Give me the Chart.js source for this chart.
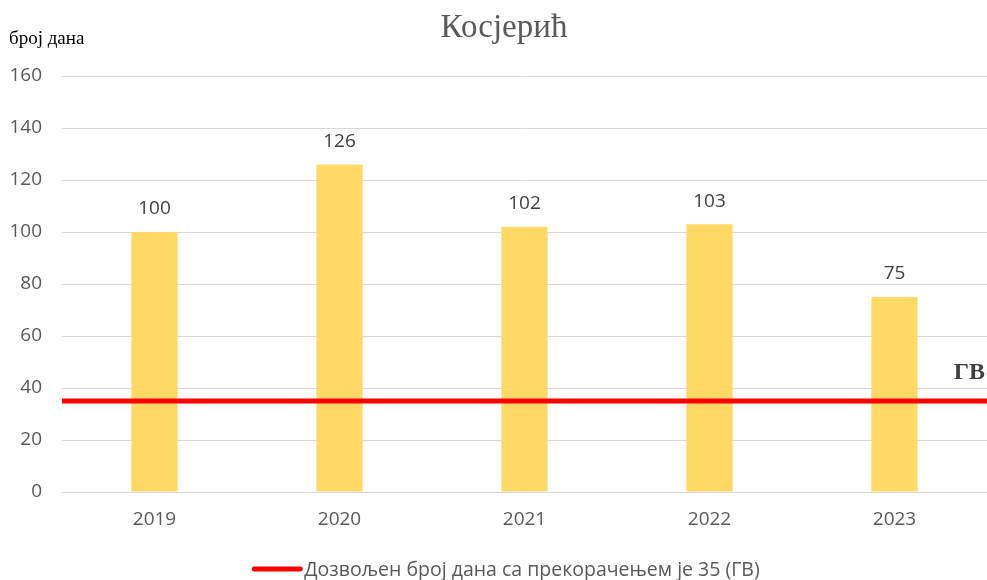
<!DOCTYPE html>
<html><head><meta charset="utf-8">
<script src="https://cdn.jsdelivr.net/npm/chart.js@4/dist/chart.umd.min.js"></script>
<style>html,body{margin:0;padding:0;background:#fff}#wrap{width:987px;height:580px}</style>
</head><body><div id="wrap"><canvas id="c" width="987" height="580"></canvas></div>
<script>
const years = ['2019', '2020', '2021', '2022', '2023'];
const daysOver = [100, 126, 102, 103, 75];
const limitValue = 35;
const limitLabel = 'Дозвољен број дана са прекорачењем је 35 (ГВ)';
const titleText = 'Косјерић';
const yAxisTitle = 'број дана';
const limitTag = 'ГВ';
const yTicks = [0, 20, 40, 60, 80, 100, 120, 140, 160];

const sans = '"Open Sans", sans-serif';
const serif = '"Liberation Serif", "DejaVu Serif", serif';

const decor = {
  id: 'decor',
  afterDatasetsDraw(chart) {
    const ctx = chart.ctx;
    const meta = chart.getDatasetMeta(0);
    ctx.save();
    ctx.fillStyle = '#404040';
    ctx.font = '19px ' + sans;
    ctx.textAlign = 'center';
    ctx.textBaseline = 'middle';
    meta.data.forEach((bar, i) => {
      ctx.fillText(String(daysOver[i]), bar.x, bar.y - 23);
    });
    ctx.restore();
  },
  afterDraw(chart) {
    const ctx = chart.ctx;
    const ca = chart.chartArea;
    const ys = chart.scales.y;
    ctx.save();
    ctx.fillStyle = '#595959';
    ctx.font = '33px ' + serif;
    ctx.textAlign = 'center';
    ctx.textBaseline = 'middle';
    ctx.fillText(titleText, 504, 28);
    ctx.fillStyle = '#000';
    ctx.font = '19px ' + serif;
    ctx.textAlign = 'left';
    ctx.fillText(yAxisTitle, 9, 39);
    ctx.fillStyle = '#404040';
    ctx.font = 'bold 24px ' + serif;
    ctx.textAlign = 'right';
    ctx.textBaseline = 'alphabetic';
    ctx.fillText(limitTag, ca.right - 2, ys.getPixelForValue(limitValue) - 22);
    const ds = chart.data.datasets[1];
    ctx.font = '19.5px ' + sans;
    ctx.textAlign = 'left';
    ctx.textBaseline = 'middle';
    const tw = ctx.measureText(ds.label).width;
    const lw = 46, gap = 4;
    const total = lw + gap + tw;
    const x0 = 507 - total / 2;
    const yl = 569;
    ctx.strokeStyle = ds.borderColor;
    ctx.lineWidth = 5;
    ctx.lineCap = 'round';
    ctx.beginPath();
    ctx.moveTo(x0, yl);
    ctx.lineTo(x0 + lw, yl);
    ctx.stroke();
    ctx.fillStyle = '#595959';
    ctx.fillText(ds.label, x0 + lw + gap, yl + 1);
    ctx.restore();
  }
};

new Chart(document.getElementById('c'), {
  data: {
    labels: years,
    datasets: [
      {
        type: 'bar',
        label: 'Број дана',
        data: daysOver,
        backgroundColor: '#FFD966',
        barPercentage: 0.25,
        categoryPercentage: 1,
        grouped: false,
        order: 2
      },
      {
        type: 'line',
        label: limitLabel,
        xAxisID: 'x2',
        data: [{x: 0, y: limitValue}, {x: 1, y: limitValue}],
        borderColor: '#FF0000',
        borderWidth: 5,
        pointRadius: 0,
        fill: false,
        order: 1
      }
    ]
  },
  options: {
    responsive: false,
    animation: false,
    layout: { padding: { top: 76, right: 0, left: 0, bottom: 48 } },
    plugins: { legend: { display: false }, tooltip: { enabled: false }, title: { display: false } },
    scales: {
      x: {
        type: 'category',
        grid: { display: false, drawTicks: false },
        border: { display: false },
        ticks: { color: '#595959', font: { size: 19, family: sans }, padding: 16 },
        afterFit(s) { s.height = 40; }
      },
      x2: { type: 'linear', min: 0, max: 1, display: false },
      y: {
        min: 0, max: 160,
        afterBuildTicks(s) { s.ticks = yTicks.map(v => ({ value: v })); },
        grid: { color: '#D9D9D9', lineWidth: 1, drawTicks: false },
        border: { display: false },
        ticks: { color: '#595959', font: { size: 19, family: sans }, padding: 20 },
        afterFit(s) { s.width = 62; }
      }
    }
  },
  plugins: [decor]
});
</script></body></html>
